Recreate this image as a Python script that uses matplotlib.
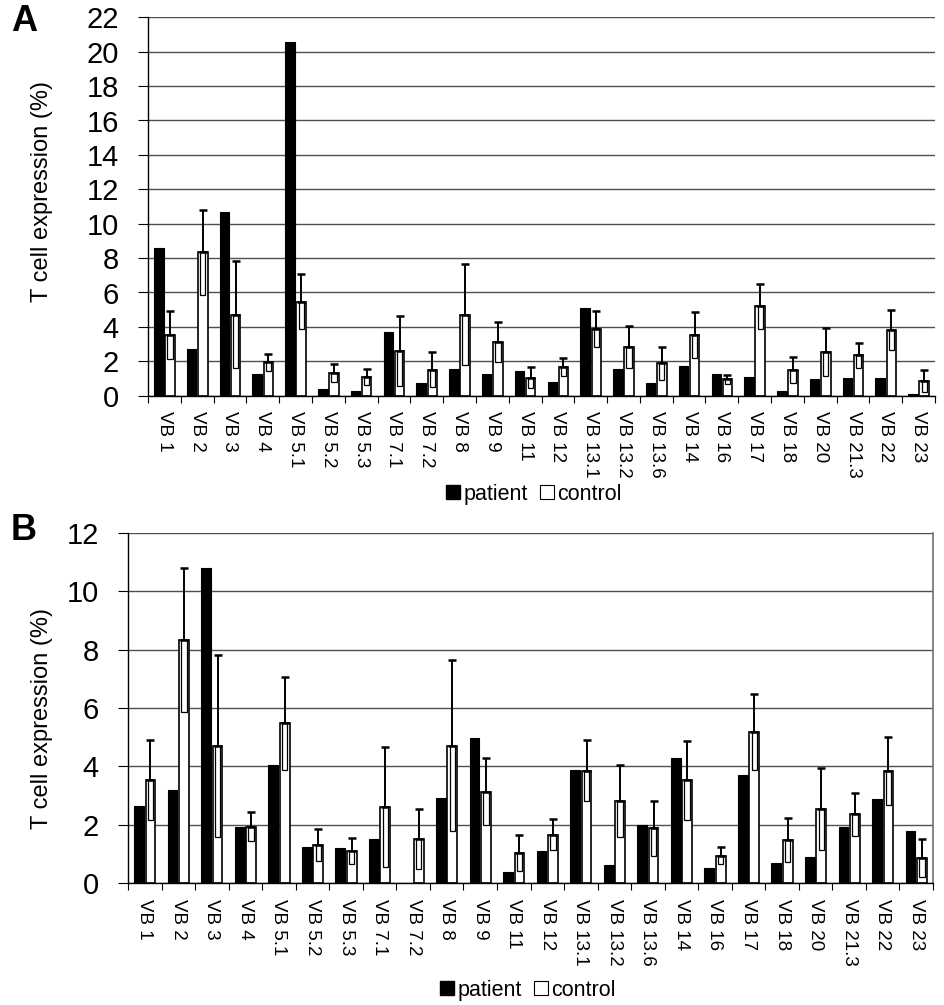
import numpy as np
import matplotlib
matplotlib.use('Agg')
import matplotlib.pyplot as plt
from matplotlib.patches import Patch

plt.rcParams['font.family'] = ['Liberation Sans', 'DejaVu Sans']

# Data --------------------------------------------------------------
labels = ['VB 1', 'VB 2', 'VB 3', 'VB 4', 'VB 5.1', 'VB 5.2', 'VB 5.3', 'VB 7.1',
          'VB 7.2', 'VB 8', 'VB 9', 'VB 11', 'VB 12', 'VB 13.1', 'VB 13.2', 'VB 13.6',
          'VB 14', 'VB 16', 'VB 17', 'VB 18', 'VB 20', 'VB 21.3', 'VB 22', 'VB 23']

patient_a = [8.57, 2.71, 10.66, 1.24, 20.54, 0.37, 0.25, 3.72, 0.72, 1.53, 1.24, 1.41,
             0.79, 5.10, 1.57, 0.74, 1.72, 1.28, 1.07, 0.29, 0.97, 1.01, 1.01, 0.12]
patient_b = [2.65, 3.19, 10.79, 1.93, 4.04, 1.24, 1.22, 1.51, 0.0, 2.93, 4.97, 0.37,
             1.12, 3.88, 0.63, 2.00, 4.30, 0.54, 3.72, 0.70, 0.89, 1.93, 2.87, 1.79]
control = [3.53, 8.33, 4.71, 1.94, 5.47, 1.32, 1.10, 2.60, 1.51, 4.71, 3.14, 1.05,
           1.67, 3.86, 2.83, 1.88, 3.53, 0.95, 5.19, 1.49, 2.54, 2.36, 3.84, 0.87]
control_sd = [1.38, 2.45, 3.12, 0.50, 1.60, 0.55, 0.45, 2.05, 1.03, 2.93, 1.16, 0.62,
              0.54, 1.05, 1.23, 0.94, 1.35, 0.28, 1.30, 0.75, 1.40, 0.73, 1.16, 0.64]

panels = [('A', patient_a, 22, [148, 935, 17.3, 395.7], (42, 192), (534, 494), 4, False),
          ('B', patient_b, 12, [128, 933, 532.7, 883.3], (42, 718), (528, 990), 513, True)]

W, H = 944, 1005
fig = plt.figure(figsize=(W / 100, H / 100), dpi=100)

x = np.arange(len(labels))
bw = 0.29
off = 0.17
ctrl = np.array(control)
sd = np.array(control_sd)

for letter, patient, ymax, box, ylab_pos, leg_pos, letter_y, right_frame in panels:
    l, r, t, b = box
    ax = fig.add_axes([l / W, 1 - b / H, (r - l) / W, (b - t) / H])

    ax.bar(x - off, patient, bw, color='black', edgecolor='black', linewidth=0.8, zorder=2)
    ax.bar(x + off, ctrl, bw, color='white', edgecolor='black', linewidth=1.2, zorder=2)
    # lower half of the error bar shows as a narrow box inside the white bar
    ax.bar(x + off, sd, bw * 0.55, bottom=ctrl - sd, color='white', edgecolor='black',
           linewidth=0.9, zorder=3)
    ax.errorbar(x + off, ctrl, yerr=[np.zeros_like(sd), sd], fmt='none', ecolor='black',
                elinewidth=1.4, capsize=3.2, capthick=1.8, zorder=4)

    ax.set_xlim(-0.5, len(labels) - 0.5)
    ax.set_ylim(0, ymax)
    ax.set_yticks(np.arange(0, ymax + 1, 2))
    ax.yaxis.grid(True, color='#505050', linewidth=1.0)
    ax.set_axisbelow(True)
    ax.tick_params(axis='y', labelsize=21, length=7, width=0.8, pad=14)

    ax.set_xticks(x)
    ax.set_xticklabels(labels, rotation=-90, fontsize=13.5, va='top', ha='center')
    ax.set_xticks(np.arange(-0.5, len(labels)), minor=True)
    ax.tick_params(axis='x', which='major', length=0, pad=11)
    ax.tick_params(axis='x', which='minor', length=5, width=0.8)

    ax.spines['top'].set_visible(False)
    ax.spines['left'].set_linewidth(1.0)
    ax.spines['bottom'].set_linewidth(1.0)
    if right_frame:
        ax.spines['right'].set_color('#707070')
        ax.spines['right'].set_linewidth(1.2)
    else:
        ax.spines['right'].set_visible(False)

    fig.text(ylab_pos[0] / W, 1 - ylab_pos[1] / H, 'T cell expression (%)', rotation=90,
             fontsize=17, ha='center', va='center')
    fig.text(11 / W, 1 - letter_y / H, letter,
             fontsize=26, fontweight='bold', ha='left', va='top')

    handles = [Patch(facecolor='black', edgecolor='black', label='patient'),
               Patch(facecolor='white', edgecolor='black', linewidth=0.8, label='control')]
    fig.legend(handles=handles, loc='center', ncol=2, frameon=False, fontsize=15.5,
               bbox_to_anchor=(leg_pos[0] / W, 1 - leg_pos[1] / H),
               handlelength=0.65, handleheight=0.65, handletextpad=0.15, columnspacing=0.6)

fig.savefig('out.png', dpi=100)
